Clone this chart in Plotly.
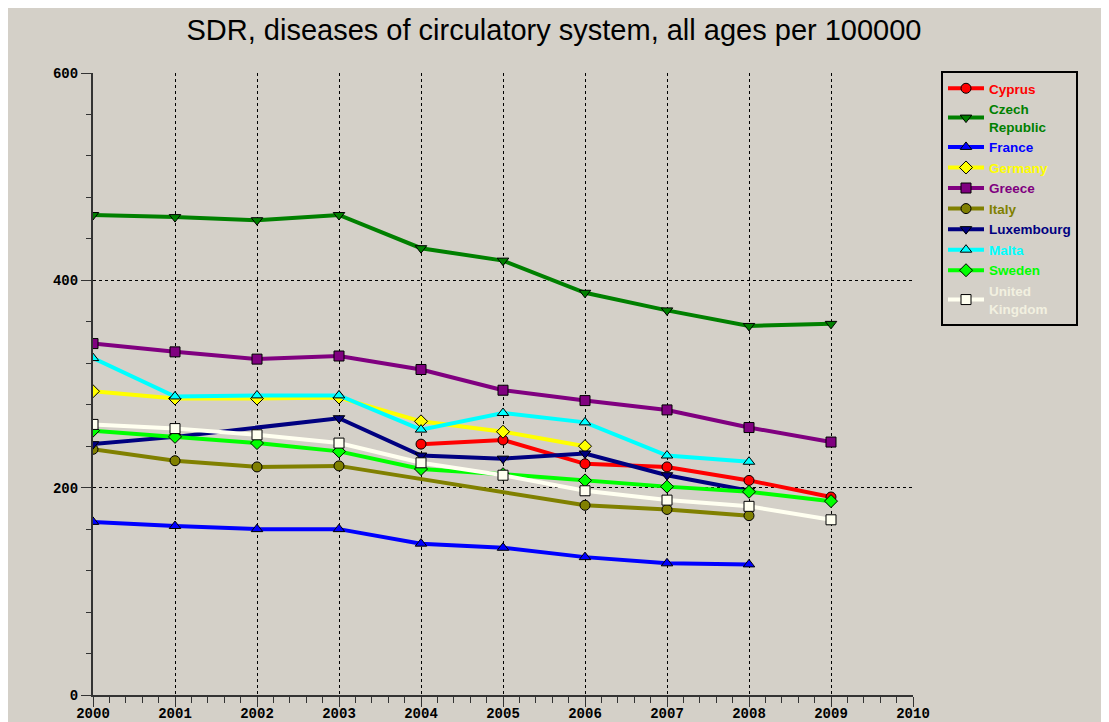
import plotly.graph_objects as go

years = [2000, 2001, 2002, 2003, 2004, 2005, 2006, 2007, 2008, 2009]

cyprus = [None, None, None, None, 242, 246, 223, 220, 207, 191]
czech = [463, 461, 458, 463, 431, 419, 388, 371, 356, 358]
france = [167, 163, 160, 160, 146, 142, 133, 127, 126, None]
germany = [293, 286, 286, 287, 264, 254, 240, None, None, None]
greece = [339, 331, 324, 327, 314, 294, 284, 275, 258, 244]
italy = [237, 226, 220, 221, None, None, 183, 179, 173, None]
luxembourg = [242, 249, None, 267, 231, 228, 233, 212, 197, None]
malta = [325, 288, 289, 289, 256, 272, 263, 231, 225, None]
sweden = [255, 249, 243, 235, 218, 213, 207, 201, 196, 187]
uk = [261, 257, 251, 243, 224, 212, 197, 188, 182, 169]

series_names = ["Cyprus", "Czech<br>Republic", "France", "Germany", "Greece", "Italy",
                "Luxembourg", "Malta", "Sweden", "United<br>Kingdom"]
series_values = [cyprus, czech, france, germany, greece, italy, luxembourg, malta, sweden, uk]
colors = ["#ff0000", "#008000", "#0000ff", "#ffff00", "#800080", "#808000",
          "#000080", "#00ffff", "#00ff00", "#fffff0"]
text_colors = ["#ff0000", "#008000", "#0000ff", "#ffff00", "#800080", "#808000",
               "#000080", "#00ffff", "#00ff00", "#f2f0e0"]
symbols = ["circle", "triangle-down", "triangle-up", "diamond", "square", "circle",
           "triangle-down", "triangle-up", "diamond", "square"]

BG = "#d4d0c8"
W, H = 1109, 722
L, T = 85, 65
R = W - 905
B = H - 687

fig = go.Figure()
for name, vals, c, tc, s in zip(series_names, series_values, colors, text_colors, symbols):
    fig.add_trace(go.Scatter(
        x=years, y=vals, name=f'<span style="color:{tc}">{name}</span>',
        mode="lines+markers", connectgaps=True,
        line=dict(color=c, width=4),
        marker=dict(symbol=s, size=10, color=c, line=dict(color="black", width=1)),
    ))

pw = W - L - R

axis_font = dict(family="Liberation Mono", size=14, color="black", weight="bold")

fig.update_layout(
    width=W, height=H,
    margin=dict(l=L, r=R, t=T, b=B, autoexpand=False),
    paper_bgcolor=BG,
    plot_bgcolor=BG,
    title=dict(text="SDR, diseases of circulatory system, all ages per 100000",
               x=546 / W, xanchor="center", xref="container",
               y=1 - 22 / H, yanchor="middle",
               font=dict(family="Liberation Sans", size=29, color="black")),
    xaxis=dict(range=[2000, 2010], tickmode="linear", tick0=2000, dtick=1,
               showgrid=True, gridcolor="black", griddash="dot", gridwidth=1,
               showline=True, linecolor="#333333", linewidth=2,
               ticks="outside", ticklen=10, tickcolor="#333333",
               ticklabelstandoff=-6,
               minor=dict(dtick=0.2, ticks="outside", ticklen=6, tickcolor="#333333", showgrid=False),
               tickfont=axis_font, zeroline=False, fixedrange=True, automargin=False),
    yaxis=dict(range=[0, 600], tickmode="array", tickvals=[0, 200, 400, 600],
               showgrid=True, gridcolor="black", griddash="dot", gridwidth=1,
               showline=True, linecolor="#333333", linewidth=2,
               ticks="outside", ticklen=10, tickcolor="#333333",
               minor=dict(dtick=40, ticks="outside", ticklen=5, tickcolor="#333333", showgrid=False),
               tickfont=axis_font, zeroline=False, fixedrange=True, automargin=False),
    legend=dict(x=(933 - L) / pw, xanchor="left", y=1.0 + 2 / 622, yanchor="top",
                bgcolor=BG, bordercolor="black", borderwidth=2,
                font=dict(family="Liberation Sans", size=13.5, weight="bold"),
                tracegroupgap=0, itemwidth=36),
    showlegend=True,
)

fig.write_html("out.html")
